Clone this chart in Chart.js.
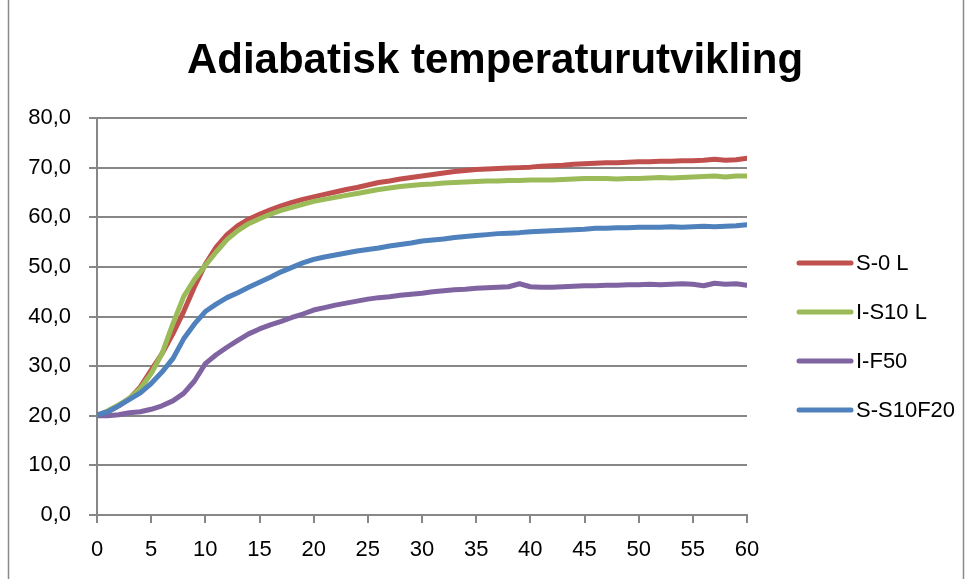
<!DOCTYPE html>
<html>
<head>
<meta charset="utf-8">
<script src="https://cdn.jsdelivr.net/npm/chart.js@4.4.1/dist/chart.umd.min.js"></script>
<style>
    html, body { margin: 0; padding: 0; background: #fff; }
    #wrap { width: 973px; height: 579px; position: relative; }
</style>
</head>
<body>
<div id="wrap"><canvas id="chart" width="973" height="579"></canvas></div>
<script>
// Hours since casting (x axis)
const hours = [
    0, 1, 2, 3, 4, 5, 6, 7, 8, 9, 10, 11, 12, 13, 14, 15, 16, 17, 18, 19, 20,
    21, 22, 23, 24, 25, 26, 27, 28, 29, 30, 31, 32, 33, 34, 35, 36, 37, 38, 39, 40,
    41, 42, 43, 44, 45, 46, 47, 48, 49, 50, 51, 52, 53, 54, 55, 56, 57, 58, 59, 60
];

const chartTitle = 'Adiabatisk temperaturutvikling';
const seriesNames = ['S-0 L', 'I-S10 L', 'I-F50', 'S-S10F20'];
const seriesColors = ['#C0504D', '#9BBB59', '#8064A2', '#4F81BD'];

// Temperatures (deg C)
const s0L = [
    20.0, 20.8, 22.0, 23.5, 25.8, 29.2, 32.5, 36.5, 41.0, 46.0, 50.5,
    54.0, 56.5, 58.3, 59.6, 60.6, 61.5, 62.3, 63.0, 63.6, 64.1,
    64.6, 65.1, 65.6, 66.0, 66.5, 67.0, 67.3, 67.7, 68.0, 68.3,
    68.6, 68.9, 69.2, 69.4, 69.6, 69.7, 69.8, 69.9, 70.0, 70.1,
    70.3, 70.4, 70.5, 70.7, 70.8, 70.9, 71.0, 71.0, 71.1, 71.2,
    71.2, 71.3, 71.3, 71.4, 71.4, 71.5, 71.7, 71.5, 71.6, 71.9
];
const iS10L = [
    20.0, 21.0, 22.2, 23.5, 25.5, 28.5, 32.5, 38.5, 44.0, 47.5, 50.3,
    53.0, 55.5, 57.3, 58.7, 59.7, 60.6, 61.4, 62.0, 62.6, 63.2,
    63.6, 64.0, 64.4, 64.8, 65.2, 65.6, 65.9, 66.2, 66.4, 66.6,
    66.7, 66.9, 67.0, 67.1, 67.2, 67.3, 67.3, 67.4, 67.4, 67.5,
    67.5, 67.5, 67.6, 67.7, 67.8, 67.8, 67.8, 67.7, 67.8, 67.8,
    67.9, 68.0, 67.9, 68.0, 68.1, 68.2, 68.3, 68.1, 68.3, 68.3
];
const iF50 = [
    20.0, 20.0, 20.2, 20.6, 20.8, 21.3, 22.0, 23.0, 24.5, 27.0, 30.5,
    32.3, 33.8, 35.2, 36.5, 37.5, 38.3, 39.0, 39.8, 40.5, 41.3,
    41.8, 42.3, 42.7, 43.1, 43.5, 43.8, 44.0, 44.3, 44.5, 44.7,
    45.0, 45.2, 45.4, 45.5, 45.7, 45.8, 45.9, 46.0, 46.6, 46.0,
    45.9, 45.9, 46.0, 46.1, 46.2, 46.2, 46.3, 46.3, 46.4, 46.4,
    46.5, 46.4, 46.5, 46.6, 46.5, 46.2, 46.7, 46.5, 46.6, 46.3
];
const sS10F20 = [
    20.2, 20.8, 22.0, 23.3, 24.6, 26.5, 28.8, 31.5, 35.5, 38.5, 41.0,
    42.5, 43.8, 44.8, 45.9, 46.9, 47.9, 49.0, 49.9, 50.8, 51.5,
    52.0, 52.4, 52.8, 53.2, 53.5, 53.8, 54.2, 54.5, 54.8, 55.2,
    55.4, 55.6, 55.9, 56.1, 56.3, 56.5, 56.7, 56.8, 56.9, 57.1,
    57.2, 57.3, 57.4, 57.5, 57.6, 57.8, 57.8, 57.9, 57.9, 58.0,
    58.0, 58.0, 58.1, 58.0, 58.1, 58.2, 58.1, 58.2, 58.3, 58.5
];

const yTicks = [0, 10, 20, 30, 40, 50, 60, 70, 80];
const xTicks = [0, 5, 10, 15, 20, 25, 30, 35, 40, 45, 50, 55, 60];

const seriesValues = [s0L, iS10L, iF50, sS10F20];

const gridColor = '#878787';
const fontFamily = "'Liberation Sans', 'DejaVu Sans', sans-serif";

/**
 * Build one dataset from a value list
 */
function makeDataset(i) {
    return {
        label: seriesNames[i],
        data: hours.map((h, k) => ({ x: h, y: seriesValues[i][k] })),
        borderColor: seriesColors[i],
        backgroundColor: seriesColors[i],
        borderWidth: 5,
        pointRadius: 0,
        tension: 0,
        borderCapStyle: 'round',
        borderJoinStyle: 'round',
        order: seriesNames.length - i
    };
}

// Outer frame of the chart object and the title
const framePlugin = {
    id: 'frame',
    beforeDraw(chart) {
        const ctx = chart.ctx;
        ctx.save();
        ctx.fillStyle = '#fff';
        ctx.fillRect(0, 0, chart.width, chart.height);
        ctx.strokeStyle = '#8a8a8a';
        ctx.lineWidth = 1.5;
        ctx.beginPath();
        ctx.moveTo(8.5, 0);
        ctx.lineTo(8.5, chart.height);
        ctx.moveTo(963.5, 0);
        ctx.lineTo(963.5, chart.height);
        ctx.stroke();

        ctx.fillStyle = '#000';
        ctx.font = 'bold 42px ' + fontFamily;
        ctx.textAlign = 'center';
        ctx.textBaseline = 'middle';
        ctx.fillText(chartTitle, 495, 61);
        ctx.restore();
    }
};

// Legend on the right, drawn from the datasets
const sideLegendPlugin = {
    id: 'sideLegend',
    afterDraw(chart) {
        const ctx = chart.ctx;
        const x0 = 799;
        const y0 = 263;
        const gap = 49;
        ctx.save();
        ctx.font = '22px ' + fontFamily;
        ctx.textBaseline = 'middle';
        ctx.textAlign = 'left';
        chart.data.datasets.forEach((ds, i) => {
            const y = y0 + i * gap;
            ctx.strokeStyle = ds.borderColor;
            ctx.lineWidth = 5;
            ctx.lineCap = 'round';
            ctx.beginPath();
            ctx.moveTo(x0, y);
            ctx.lineTo(x0 + 52, y);
            ctx.stroke();
            ctx.fillStyle = '#000';
            ctx.fillText(ds.label, x0 + 57, y + 1);
        });
        ctx.restore();
    }
};

const ctx = document.getElementById('chart').getContext('2d');
const chart = new Chart(ctx, {
    type: 'line',
    data: {
        datasets: seriesNames.map((n, i) => makeDataset(i))
    },
    options: {
        responsive: false,
        animation: false,
        layout: {
            padding: { left: 0, right: 226, top: 118, bottom: 0 }
        },
        plugins: {
            legend: { display: false },
            tooltip: { enabled: false },
            title: { display: false }
        },
        scales: {
            x: {
                type: 'linear',
                min: 0,
                max: 60,
                afterBuildTicks: scale => {
                    scale.ticks = xTicks.map(v => ({ value: v }));
                },
                afterFit: scale => { scale.height = 64; },
                grid: {
                    drawOnChartArea: false,
                    drawTicks: true,
                    tickLength: 8,
                    color: gridColor,
                    lineWidth: 2
                },
                border: { color: gridColor, width: 2 },
                ticks: {
                    color: '#000',
                    padding: 14,
                    maxRotation: 0,
                    font: { family: fontFamily, size: 22 }
                }
            },
            y: {
                min: 0,
                max: 80,
                afterBuildTicks: scale => {
                    scale.ticks = yTicks.map(v => ({ value: v }));
                },
                afterFit: scale => { scale.width = 97; },
                grid: {
                    color: gridColor,
                    lineWidth: 2,
                    drawTicks: true,
                    tickLength: 8
                },
                border: { color: gridColor, width: 2 },
                ticks: {
                    color: '#000',
                    padding: 18,
                    font: { family: fontFamily, size: 22 },
                    callback: v => v.toFixed(1).replace('.', ',')
                }
            }
        }
    },
    plugins: [framePlugin, sideLegendPlugin]
});
</script>
</body>
</html>
